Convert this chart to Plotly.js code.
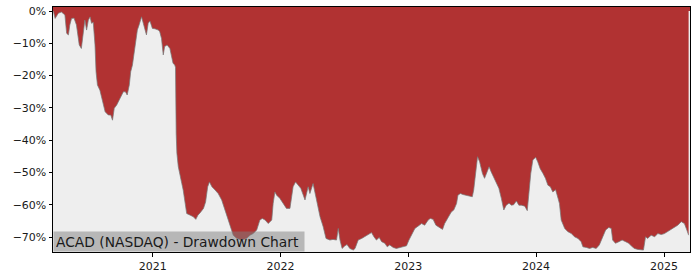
<!DOCTYPE html>
<html>
<head>
<meta charset="utf-8">
<script src="https://cdn.plot.ly/plotly-3.0.1.min.js"></script>
<style>html,body{margin:0;padding:0;background:#fff;}#chart{width:700px;height:280px;}</style>
</head>
<body>
<div id="chart"></div>
<script>
const dates = [
"2020-03-23","2020-03-28","2020-04-06","2020-04-15","2020-04-25","2020-04-30","2020-05-05","2020-05-09","2020-05-14","2020-05-21",
"2020-05-28","2020-06-05","2020-06-11","2020-06-16","2020-06-21","2020-06-26","2020-07-01","2020-07-06","2020-07-10","2020-07-15",
"2020-07-20","2020-07-23","2020-07-27","2020-08-03","2020-08-11","2020-08-18","2020-08-27","2020-09-03","2020-09-08","2020-09-13",
"2020-09-20","2020-09-25","2020-09-30","2020-10-04","2020-10-09","2020-10-15","2020-10-20","2020-10-26","2020-10-30","2020-11-04",
"2020-11-08","2020-11-14","2020-11-18","2020-11-23","2020-11-30","2020-12-05","2020-12-10","2020-12-14","2020-12-19","2020-12-24",
"2020-12-31","2021-01-07","2021-01-17","2021-01-21","2021-01-26","2021-01-31","2021-02-04","2021-02-11","2021-02-19","2021-02-23",
"2021-02-28","2021-03-05","2021-03-07","2021-03-09","2021-03-11","2021-03-15","2021-03-20","2021-03-25","2021-03-29","2021-04-03",
"2021-04-08","2021-04-18","2021-04-27","2021-05-04","2021-05-10","2021-05-16","2021-05-26","2021-06-01","2021-06-07","2021-06-12",
"2021-06-19","2021-06-28","2021-07-07","2021-07-17","2021-07-26","2021-08-05","2021-08-13","2021-08-19","2021-08-29","2021-09-12",
"2021-09-26","2021-10-06","2021-10-15","2021-10-25","2021-11-03","2021-11-10","2021-11-18","2021-11-27","2021-12-07","2021-12-11",
"2021-12-16","2021-12-21","2021-12-30","2022-01-09","2022-01-18","2022-01-28","2022-02-02","2022-02-06","2022-02-13","2022-02-21",
"2022-02-28","2022-03-12","2022-03-21","2022-03-26","2022-04-04","2022-04-14","2022-04-24","2022-05-03","2022-05-11","2022-05-22",
"2022-05-31","2022-06-10","2022-06-15","2022-06-20","2022-06-26","2022-07-04","2022-07-10","2022-07-18","2022-07-28","2022-08-02",
"2022-08-11","2022-08-21","2022-08-30","2022-09-08","2022-09-18","2022-09-25","2022-10-02","2022-10-10","2022-10-17","2022-10-26",
"2022-11-02","2022-11-09","2022-11-19","2022-11-28","2022-12-08","2022-12-17","2022-12-27","2023-01-03","2023-01-10","2023-01-20",
"2023-01-29","2023-02-08","2023-02-17","2023-02-27","2023-03-05","2023-03-13","2023-03-21","2023-03-30","2023-04-09","2023-04-15",
"2023-04-25","2023-05-04","2023-05-11","2023-05-19","2023-05-23","2023-05-30","2023-06-06","2023-06-16","2023-06-26","2023-07-03",
"2023-07-07","2023-07-12","2023-07-18","2023-07-24","2023-08-01","2023-08-07","2023-08-14","2023-08-20","2023-08-26","2023-09-02",
"2023-09-10","2023-09-17","2023-09-24","2023-10-01","2023-10-08","2023-10-16","2023-10-23","2023-10-29","2023-11-06","2023-11-13",
"2023-11-20","2023-11-30","2023-12-07","2023-12-12","2023-12-17","2023-12-23","2023-12-31","2024-01-06","2024-01-13","2024-01-21",
"2024-01-28","2024-02-04","2024-02-11","2024-02-18","2024-02-26","2024-03-04","2024-03-08","2024-03-13","2024-03-23","2024-04-01",
"2024-04-11","2024-04-20","2024-04-30","2024-05-09","2024-05-14","2024-05-24","2024-06-02","2024-06-11","2024-06-21","2024-06-30",
"2024-07-10","2024-07-18","2024-07-27","2024-08-03","2024-08-07","2024-08-15","2024-08-25","2024-09-03","2024-09-13","2024-09-22",
"2024-09-29","2024-10-08","2024-10-18","2024-10-27","2024-11-03","2024-11-09","2024-11-15","2024-11-25","2024-12-05","2024-12-14",
"2024-12-24","2025-01-02","2025-01-11","2025-01-21","2025-01-30","2025-02-09","2025-02-19","2025-02-28","2025-03-07","2025-03-12"
];
const drawdown = [
0,-2.3,-0.7,-0.3,-1.2,-6.9,-7.4,-4.3,-2.3,-2.2,
-4.3,-10.5,-11.6,-6.4,-2.8,-5.9,-2.8,-1.8,-3.8,-3.5,
-10.5,-18.8,-22.9,-24.5,-28.1,-31.2,-32.2,-32.2,-33.8,-30.1,
-29.1,-28.1,-27.0,-26.0,-25.0,-25.0,-26.0,-22.9,-18.8,-16.7,
-13.6,-9.5,-5.9,-4.3,-1.8,-3.8,-6.4,-7.4,-3.8,-3.1,
-5.4,-5.5,-5.9,-6.4,-8.5,-13.6,-11.0,-10.5,-11.6,-13.6,
-16.2,-16.7,-17.5,-38.0,-44.0,-48.2,-51.3,-53.4,-55.4,-59.6,
-62.7,-63.2,-63.7,-64.5,-63.2,-62.5,-61.1,-59.1,-54.4,-52.9,
-54.4,-55.4,-56.5,-58.5,-61.6,-64.7,-67.8,-69.4,-70.4,-70.9,
-70.4,-69.4,-68.9,-67.8,-64.7,-64.2,-64.7,-65.8,-64.7,-59.6,
-56.0,-57.0,-58.0,-59.6,-61.1,-61.1,-57.5,-54.4,-52.9,-53.9,
-54.9,-58.5,-54.4,-56.5,-53.4,-58.5,-63.7,-66.8,-70.4,-70.9,
-70.7,-70.9,-67.3,-70.9,-73.5,-72.7,-72.3,-73.5,-74.0,-73.5,
-70.9,-70.4,-69.9,-69.4,-68.6,-69.9,-70.9,-70.1,-71.4,-71.9,
-73.0,-72.4,-73.2,-73.5,-73.2,-73.0,-72.7,-70.9,-69.4,-67.3,
-66.6,-65.8,-66.3,-64.7,-64.2,-64.5,-66.3,-67.0,-67.6,-65.8,
-63.7,-62.2,-61.6,-59.6,-57.0,-56.5,-56.8,-57.0,-57.3,-57.5,
-55.4,-50.3,-45.1,-46.7,-50.3,-51.8,-49.8,-48.2,-49.8,-51.3,
-52.9,-54.9,-58.0,-61.6,-60.1,-59.5,-60.1,-60.0,-58.8,-60.1,
-60.1,-60.4,-61.8,-55.4,-50.3,-46.1,-45.3,-46.7,-48.8,-50.3,
-51.8,-53.9,-54.4,-56.0,-55.3,-58.0,-59.6,-64.7,-67.3,-68.3,
-68.9,-69.9,-70.4,-71.4,-73.0,-73.2,-73.5,-73.2,-73.5,-72.4,
-69.9,-67.8,-67.0,-67.3,-70.9,-71.9,-71.4,-70.9,-71.4,-71.9,
-72.7,-73.5,-73.8,-73.8,-74.0,-69.9,-70.4,-69.4,-69.9,-68.9,
-69.2,-68.9,-68.3,-67.6,-66.8,-66.3,-65.2,-65.8,-67.8,-69.4
];
const yTickVals = [0,-10,-20,-30,-40,-50,-60,-70];
const yTickText = ["0%","\u221210%","\u221220%","\u221230%","\u221240%","\u221250%","\u221260%","\u221270%"];
const xTickVals = ["2021-01-01","2022-01-01","2023-01-01","2024-01-01","2025-01-01"];
const xTickText = ["2021","2022","2023","2024","2025"];
const chartLabel = "ACAD (NASDAQ) - Drawdown Chart";

const RED = "#b13232";
const FONT = "DejaVu Sans, sans-serif";

const trace = {
  x: dates, y: drawdown, type: "scatter", mode: "lines",
  fill: "tozeroy", fillcolor: RED,
  line: {color: "rgba(120,120,120,0.9)", width: 0.8},
  hoverinfo: "skip"
};

const layout = {
  width: 700, height: 280,
  margin: {l: 53, r: 10, t: 7, b: 28, pad: 0},
  paper_bgcolor: "#ffffff",
  plot_bgcolor: "#eeeeee",
  showlegend: false,
  font: {family: FONT, size: 11, color: "#1a1a1a"},
  xaxis: {
    type: "date",
    range: ["2020-03-22", "2025-03-16"],
    tickvals: xTickVals, ticktext: xTickText,
    ticks: "outside", ticklen: 3.5, tickwidth: 1, tickcolor: "#000",
    showline: true, linecolor: "#000", linewidth: 1, mirror: true,
    showgrid: false, zeroline: false,
    tickfont: {family: FONT, size: 11, color: "#1a1a1a"}
  },
  yaxis: {
    range: [-74.6, 1.24],
    tickvals: yTickVals, ticktext: yTickText,
    ticks: "outside", ticklen: 3.5, tickwidth: 1, tickcolor: "#000",
    showline: true, linecolor: "#000", linewidth: 1, mirror: true,
    showgrid: false, zeroline: false,
    tickfont: {family: FONT, size: 11, color: "#1a1a1a"}
  },
  shapes: [{
    type: "rect", xref: "paper", x0: 0, x1: 1, yref: "y", y0: 0, y1: 1.24,
    fillcolor: RED, line: {width: 0}, layer: "below"
  }],
  annotations: [{
    text: chartLabel, xref: "paper", yref: "paper", x: 0, y: 0,
    xanchor: "left", yanchor: "bottom", showarrow: false,
    font: {family: FONT, size: 13.8, color: "#1a1a1a"},
    bgcolor: "rgba(128,128,128,0.5)", borderpad: 2,
    width: 246, height: 15, align: "left", valign: "middle"
  }]
};

Plotly.newPlot("chart", [trace], layout, {displayModeBar: false, staticPlot: true});
</script>
</body>
</html>
